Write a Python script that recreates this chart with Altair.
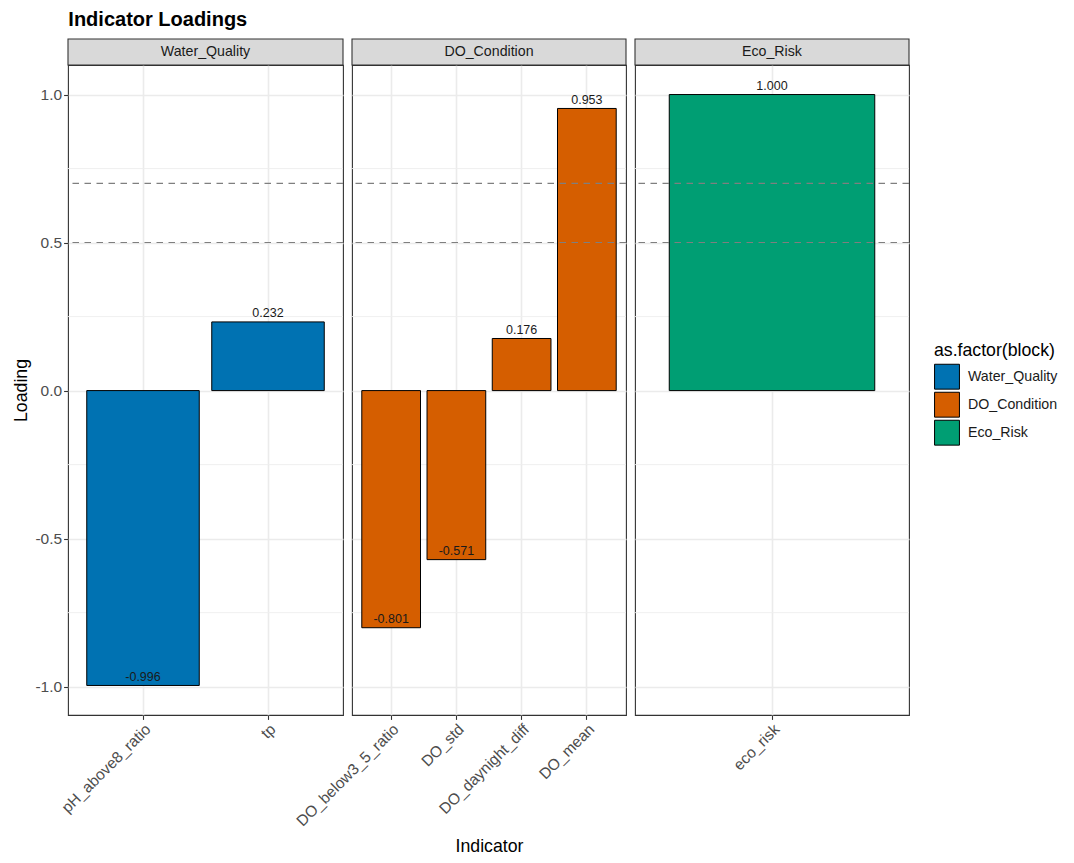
import altair as alt
import pandas as pd

# Loadings of each indicator, grouped by block
indicators = ["pH_above8_ratio", "tp", "DO_below3_5_ratio", "DO_std",
              "DO_daynight_diff", "DO_mean", "eco_risk"]
blocks = ["Water_Quality", "Water_Quality", "DO_Condition", "DO_Condition",
          "DO_Condition", "DO_Condition", "Eco_Risk"]
loadings = [-0.996, 0.232, -0.801, -0.571, 0.176, 0.953, 1.000]

block_order = ["Water_Quality", "DO_Condition", "Eco_Risk"]
block_colors = ["#0072B2", "#D55E00", "#009E73"]

thresholds = [0.5, 0.7]
major_ticks = [-1.0, -0.5, 0.0, 0.5, 1.0]
minor_ticks = [-0.75, -0.25, 0.25, 0.75]
y_domain = [-1.0958, 1.0998]

FONT = "Liberation Sans"
PANEL_H = 650
STRIP_H = 26
panel_widths = [275, 274, 274]

df = pd.DataFrame({"indicator": indicators, "block": blocks, "loading": loadings})
df["label"] = df["loading"].map(lambda v: f"{v:.3f}")

y_scale = alt.Scale(domain=y_domain, nice=False, zero=False)
# plain hyphen for negative tick labels
hyphen_labels = "replace(format(datum.value, '.1f'), '\u2212', '-')"


def panel(block, width, first, middle):
    sub = df[df["block"] == block]
    order = list(sub["indicator"])

    x_enc = alt.X(
        "indicator:N",
        sort=order,
        scale=alt.Scale(paddingInner=0.1, paddingOuter=0.15),
        axis=alt.Axis(
            labelAngle=-45,
            labelAlign="right",
            labelBaseline="top",
            grid=True,
            title="Indicator" if middle else None,
            titlePadding=8,
        ),
    )
    if first:
        y_axis = alt.Axis(values=major_ticks, labelExpr=hyphen_labels, title="Loading", grid=True)
    else:
        y_axis = alt.Axis(values=major_ticks, labels=False, ticks=False, title=None, grid=True)

    minor = alt.Chart(pd.DataFrame({"loading": minor_ticks})).mark_rule(
        color="#EEEEEE", strokeWidth=0.9
    ).encode(y=alt.Y("loading:Q", scale=y_scale, axis=y_axis))

    bars = alt.Chart(sub).mark_bar(stroke="black", strokeWidth=1).encode(
        x=x_enc,
        y=alt.Y("loading:Q", scale=y_scale, axis=y_axis),
        color=alt.Color(
            "block:N",
            scale=alt.Scale(domain=block_order, range=block_colors),
            legend=alt.Legend(
                title="as.factor(block)",
                orient="none",
                legendX=866,
                legendY=277,
            ),
        ),
    )

    labels = alt.Chart(sub).mark_text(
        baseline="bottom", dy=-1.5, fontSize=12.5, font=FONT, color="#1A1A1A"
    ).encode(x=x_enc, y=alt.Y("loading:Q", scale=y_scale), text="label:N")

    dashed = alt.Chart(pd.DataFrame({"loading": thresholds})).mark_rule(
        color="#7F7F7F", strokeWidth=1.1, strokeDash=[6.5, 5.5]
    ).encode(y=alt.Y("loading:Q", scale=y_scale))

    strip_df = pd.DataFrame({"block": [block]})
    strip = alt.Chart(strip_df).mark_rect(
        fill="#D9D9D9", stroke="#333333", strokeWidth=1.1
    ).encode(
        x=alt.value(0), x2=alt.value(width),
        y=alt.value(-STRIP_H), y2=alt.value(0),
    )
    strip_text = alt.Chart(strip_df).mark_text(
        fontSize=14.2, font=FONT, color="#1A1A1A", baseline="middle"
    ).encode(x=alt.value(width / 2), y=alt.value(-STRIP_H / 2), text="block:N")

    return alt.layer(minor, bars, dashed, labels, strip, strip_text).properties(
        width=width, height=PANEL_H
    )


chart = alt.hconcat(
    *[panel(b, w, i == 0, i == 1) for i, (b, w) in enumerate(zip(block_order, panel_widths))],
    spacing=9,
    bounds="flush",
).properties(
    title=alt.TitleParams(
        "Indicator Loadings", anchor="start", fontSize=20, fontWeight="bold",
        font=FONT, color="black", dx=56, offset=8,
    ),
    padding={"left": 12, "top": 9, "right": 5, "bottom": 5},
).configure_view(
    stroke="#333333", strokeWidth=1.1
).configure_axis(
    labelFont=FONT, labelFontSize=15.5, labelColor="#4D4D4D",
    titleFont=FONT, titleFontSize=17.7, titleColor="black", titleFontWeight="normal",
    tickColor="#333333", tickSize=4.4, tickWidth=1.1, domain=False,
    gridColor="#EBEBEB", gridWidth=1.6, labelPadding=2,
).configure_legend(
    titleFont=FONT, titleFontSize=17.7, titleFontWeight="normal", titleColor="black",
    titlePadding=4,
    labelFont=FONT, labelFontSize=14.2, labelColor="#1A1A1A",
    symbolType="square", symbolSize=620, symbolStrokeColor="black",
    symbolStrokeWidth=1, symbolOpacity=1, rowPadding=-10, labelOffset=8,
)

chart.save("out.html", embed_options={"renderer": "svg", "actions": False})
